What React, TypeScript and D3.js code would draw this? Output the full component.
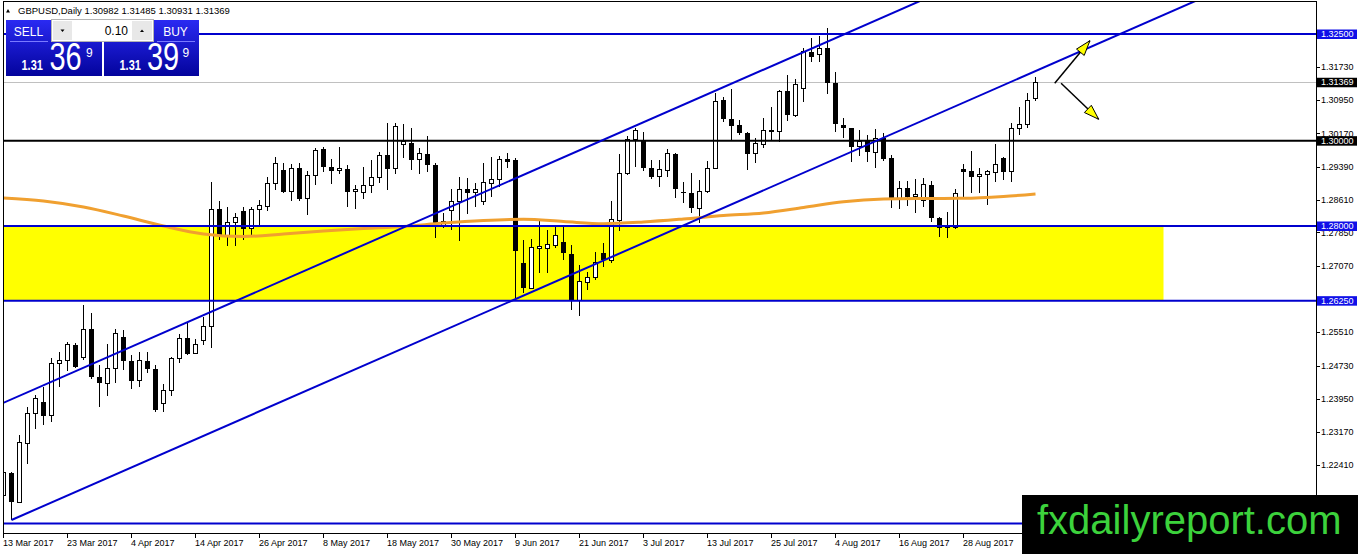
import * as d3 from 'd3'

// GBPUSD daily bars, 13 Mar 2017 .. 8 Sep 2017 (bar index 0..129)
const barOpen = [
  1.21695, 1.22211, 1.21524, 1.22907, 1.23594, 1.23868, 1.23554, 1.24782, 1.24836, 1.25211,
  1.24913, 1.25579, 1.24468, 1.24313, 1.24665, 1.25391, 1.24843, 1.24374, 1.24836, 1.24655,
  1.23845, 1.24133, 1.24899, 1.25368, 1.25016, 1.25312, 1.25656, 1.28391, 1.27766, 1.28087,
  1.28352, 1.2793, 1.28391, 1.28452, 1.29001, 1.29313, 1.28804, 1.29352, 1.28633, 1.29179,
  1.29798, 1.29376, 1.29296, 1.29329, 1.28804, 1.2878, 1.28938, 1.29141, 1.29664, 1.29336,
  1.29915, 1.29952, 1.29563, 1.29688, 1.2943, 1.28, 1.28375, 1.2857, 1.2886, 1.2878,
  1.2857, 1.29001, 1.29095, 1.29563, 1.29547, 1.2714, 1.2654, 1.27477, 1.27477, 1.27538,
  1.27618, 1.27344, 1.26249, 1.2668, 1.26798, 1.2736, 1.27187, 1.28124, 1.29219, 1.30032,
  1.29999, 1.29352, 1.29155, 1.29296, 1.29688, 1.28797, 1.28766, 1.28415, 1.28804, 1.29336,
  1.30953, 1.30501, 1.30367, 1.30173, 1.29688, 1.29915, 1.3025, 1.3021, 1.31164, 1.30585,
  1.31211, 1.32085, 1.32008, 1.32165, 1.31345, 1.30367, 1.3029, 1.29859, 1.29992, 1.29727,
  1.30055, 1.29587, 1.28649, 1.28884, 1.28687, 1.28609, 1.28961, 1.28195, 1.28007, 1.2796,
  1.29336, 1.29289, 1.29155, 1.29212, 1.29259, 1.29587, 1.29273, 1.3029, 1.30384, 1.30982,
]
const barHigh = [
  1.22516, 1.22234, 1.23102, 1.23765, 1.24039, 1.2422, 1.24913, 1.25054, 1.25288, 1.25251,
  1.26148, 1.25954, 1.24742, 1.25234, 1.25579, 1.25562, 1.24977, 1.25054, 1.25054, 1.24742,
  1.2429, 1.24937, 1.25462, 1.2572, 1.25345, 1.25874, 1.29038, 1.28593, 1.28438, 1.28312,
  1.28438, 1.28438, 1.28609, 1.29155, 1.29624, 1.2947, 1.29453, 1.2947, 1.29289, 1.29821,
  1.29859, 1.29563, 1.29859, 1.2943, 1.28961, 1.2939, 1.29547, 1.29741, 1.30421, 1.30407,
  1.30391, 1.3029, 1.29821, 1.30109, 1.29477, 1.28298, 1.2886, 1.29155, 1.29118, 1.29001,
  1.2947, 1.29624, 1.29641, 1.29718, 1.29594, 1.27672, 1.27688, 1.28157, 1.27906, 1.27984,
  1.28023, 1.27555, 1.27086, 1.26929, 1.27398, 1.27595, 1.28593, 1.29688, 1.30109, 1.3029,
  1.3021, 1.29547, 1.29547, 1.29798, 1.29704, 1.29038, 1.29235, 1.29078, 1.29523, 1.3111,
  1.31016, 1.31204, 1.30484, 1.3021, 1.30055, 1.30524, 1.30796, 1.31188, 1.31539, 1.31445,
  1.32179, 1.32399, 1.3246, 1.32634, 1.31602, 1.30538, 1.30304, 1.3025, 1.30133, 1.30273,
  1.30173, 1.29664, 1.29055, 1.29055, 1.29102, 1.29118, 1.29055, 1.28218, 1.28335, 1.28867,
  1.29446, 1.29758, 1.29352, 1.29313, 1.29915, 1.29624, 1.30407, 1.30796, 1.3111, 1.31485,
]
const barLow = [
  1.21578, 1.21109, 1.21501, 1.22422, 1.23235, 1.23336, 1.23399, 1.24234, 1.24602, 1.24665,
  1.24859, 1.24407, 1.23765, 1.24016, 1.24313, 1.24625, 1.24173, 1.2422, 1.24548, 1.23648,
  1.23648, 1.24016, 1.24782, 1.24977, 1.25, 1.25211, 1.25134, 1.27672, 1.27531, 1.27531,
  1.27672, 1.27789, 1.28023, 1.28352, 1.28844, 1.28766, 1.28593, 1.28593, 1.28258, 1.28961,
  1.29273, 1.28984, 1.29219, 1.28452, 1.28398, 1.28626, 1.2878, 1.29015, 1.28844, 1.29219,
  1.29587, 1.29313, 1.29219, 1.29273, 1.27712, 1.27953, 1.27906, 1.27655, 1.28281, 1.28438,
  1.28492, 1.28687, 1.28907, 1.29352, 1.26305, 1.26423, 1.26516, 1.26891, 1.26891, 1.27477,
  1.27203, 1.26031, 1.25891, 1.265, 1.26734, 1.27032, 1.2714, 1.2789, 1.29195, 1.2939,
  1.29296, 1.29095, 1.28907, 1.29141, 1.28649, 1.28546, 1.28312, 1.28077, 1.2878, 1.29329,
  1.30445, 1.30016, 1.30133, 1.29313, 1.2947, 1.29835, 1.30016, 1.29962, 1.30461, 1.30562,
  1.30913, 1.31851, 1.31851, 1.31087, 1.30196, 1.3007, 1.29493, 1.29648, 1.29493, 1.29352,
  1.29523, 1.28429, 1.28398, 1.28476, 1.28298, 1.28452, 1.28101, 1.27749, 1.27712, 1.2793,
  1.28687, 1.28766, 1.28766, 1.28492, 1.29024, 1.29078, 1.29038, 1.30133, 1.3029, 1.30931,
]
const barClose = [
  1.22211, 1.21531, 1.2293, 1.23594, 1.23962, 1.23554, 1.24782, 1.24836, 1.25211, 1.24702,
  1.25579, 1.24468, 1.24313, 1.24665, 1.25485, 1.24843, 1.24374, 1.24836, 1.24655, 1.23687,
  1.24133, 1.24899, 1.25368, 1.25, 1.25234, 1.2564, 1.28391, 1.27766, 1.28077, 1.28204,
  1.2793, 1.28398, 1.28469, 1.29001, 1.2947, 1.28804, 1.29352, 1.28633, 1.29195, 1.29781,
  1.29376, 1.29296, 1.29352, 1.28804, 1.28867, 1.28938, 1.29141, 1.29664, 1.29336, 1.30327,
  1.29976, 1.29547, 1.29688, 1.2943, 1.2797, 1.28094, 1.2857, 1.2886, 1.2878, 1.2886,
  1.29015, 1.29095, 1.29563, 1.29507, 1.27421, 1.2654, 1.27501, 1.27515, 1.27555, 1.27789,
  1.2736, 1.26249, 1.26695, 1.26798, 1.2714, 1.27203, 1.28141, 1.29235, 1.30032, 1.30234,
  1.29352, 1.29155, 1.29313, 1.29688, 1.2886, 1.28766, 1.28415, 1.28804, 1.29352, 1.30913,
  1.30501, 1.30344, 1.30173, 1.29688, 1.29938, 1.30234, 1.3021, 1.31164, 1.30602, 1.31305,
  1.32085, 1.31968, 1.32165, 1.31345, 1.30384, 1.3029, 1.29859, 1.29976, 1.29727, 1.30055,
  1.2957, 1.28649, 1.28884, 1.28687, 1.28727, 1.28961, 1.28195, 1.27946, 1.27946, 1.28766,
  1.29273, 1.29155, 1.29212, 1.29273, 1.29446, 1.29273, 1.3029, 1.30384, 1.30953, 1.31369,
]

// moving average at sample bars
const maBars = [0, 5, 10, 15, 20, 25, 30, 35, 40, 45, 50, 55, 60, 65, 70, 75, 80, 85, 90, 95, 100, 105, 110, 115, 120, 125, 129]
const maValues = [
  1.28656, 1.28586, 1.28445, 1.28234, 1.28, 1.27813, 1.27754, 1.27813, 1.27883, 1.27941,
  1.27988, 1.2807, 1.28129, 1.28157, 1.28105, 1.28054, 1.28094, 1.28164, 1.28246, 1.28305,
  1.28434, 1.2857, 1.28633, 1.28645, 1.28649, 1.28691, 1.2875,
]

const dateTickBars = [0, 8, 16, 24, 32, 40, 48, 56, 64, 72, 80, 88, 96, 104, 112, 120]
const dateTickLabels = [
  '13 Mar 2017', '23 Mar 2017', '4 Apr 2017', '14 Apr 2017', '26 Apr 2017', '8 May 2017',
  '18 May 2017', '30 May 2017', '9 Jun 2017', '21 Jun 2017', '3 Jul 2017', '13 Jul 2017',
  '25 Jul 2017', '4 Aug 2017', '16 Aug 2017', '28 Aug 2017',
]

// visible price scale labels (the one under the 1.26250 box is fully hidden)
const priceTicks = [
  1.3173, 1.3095, 1.3017, 1.2939, 1.2861, 1.2785, 1.2707, 1.2551, 1.2473,
  1.2395, 1.2317, 1.2241, 1.2163,
]

// horizontal levels drawn on the chart (the lowest one has its label under the watermark)
const levelPrices = [1.325, 1.3, 1.28, 1.2625, 1.2103]
const levelColors = ['#0000cd', '#000000', '#0000cd', '#0000cd', '#0000cd']
const levelLabelColors = ['#1010e8', '#000000', '#1010e8', '#1010e8', '']
const lastPrice = 1.31369

// support zone
const zoneBars = [-5, 145]
const zonePrices = [1.28, 1.2625]

// channel lines: two anchor points each (bar, price)
const upperChannel = [[0, 1.23856], [100, 1.32076]]
const lowerChannel = [[1, 1.21109], [101, 1.29329]]

// scenario arrows (bar, price)
const arrowStarts = [[131.4, 1.31344], [132.2, 1.31344]]
const arrowEnds = [[135.8, 1.32343], [136.9, 1.30501]]

const W = 1358
const H = 554
const plot = { left: 3, top: 1, right: 1316, bottom: 533 }
const font = "'Liberation Sans', Arial, sans-serif"

export default function App() {
  const x = d3.scaleLinear().domain([0, 100]).range([3.5, 803.5])
  const y = d3.scaleLinear().domain([1.28, 1.325]).range([226, 34])

  const maLine = d3
    .line<number>()
    .x((_, i) => x(maBars[i]))
    .y((d) => y(d))
    .curve(d3.curveMonotoneX)

  // extend a channel to the right edge, the lower one starts at its anchor
  const channelPath = (pts: number[][], fromStart: boolean) => {
    const slope = (pts[1][1] - pts[0][1]) / (pts[1][0] - pts[0][0])
    const b0 = fromStart ? pts[0][0] : -10
    const b1 = 200
    const p0 = pts[0][1] + slope * (b0 - pts[0][0])
    const p1 = pts[0][1] + slope * (b1 - pts[0][0])
    return `M${x(b0)},${y(p0)}L${x(b1)},${y(p1)}`
  }

  const arrowHead = (sx: number, sy: number, ex: number, ey: number) => {
    const ang = Math.atan2(ey - sy, ex - sx)
    const len = 15
    const half = 5
    const bx = ex - len * Math.cos(ang)
    const by = ey - len * Math.sin(ang)
    const px = -Math.sin(ang) * half
    const py = Math.cos(ang) * half
    return `M${ex},${ey}L${bx + px},${by + py}L${bx - px},${by - py}Z`
  }

  return (
    <>
      <style>{'body{margin:0;background:#fff}'}</style>
      <svg width={W} height={H} style={{ display: 'block', fontFamily: font }}>
        <defs>
          <clipPath id="plot-clip">
            <rect x={plot.left} y={plot.top} width={plot.right - plot.left} height={plot.bottom - plot.top} />
          </clipPath>
          <linearGradient id="panel-blue" x1="0" y1="0" x2="0" y2="1">
            <stop offset="0%" stopColor="#2a2af2" />
            <stop offset="100%" stopColor="#03039c" />
          </linearGradient>
        </defs>

        <rect x={0} y={0} width={W} height={H} fill="#fff" />

        <g clipPath="url(#plot-clip)">
          {/* support zone */}
          <rect
            x={x(zoneBars[0])}
            y={y(zonePrices[0])}
            width={x(zoneBars[1]) - x(zoneBars[0])}
            height={y(zonePrices[1]) - y(zonePrices[0])}
            fill="#ffff00"
          />

          {/* last price line */}
          <line x1={plot.left} x2={plot.right} y1={Math.round(y(lastPrice)) + 0.5} y2={Math.round(y(lastPrice)) + 0.5} stroke="#c0c0c0" strokeWidth={1} />

          {/* candles */}
          <g shapeRendering="crispEdges">
            {barOpen.map((o, i) => {
              const c = barClose[i]
              const cx = x(i)
              const top = y(Math.max(o, c))
              const bot = y(Math.min(o, c))
              const bull = c >= o
              return (
                <g key={i}>
                  <line x1={cx} x2={cx} y1={y(barHigh[i])} y2={y(barLow[i])} stroke="#000" strokeWidth={1} />
                  {bull ? (
                    <rect x={cx - 2} y={top} width={4} height={Math.max(bot - top, 0.5)} fill="#fff" stroke="#000" strokeWidth={1} />
                  ) : (
                    <rect x={cx - 2.5} y={top} width={5} height={Math.max(bot - top, 1)} fill="#000" />
                  )}
                </g>
              )
            })}
          </g>

          {/* moving average */}
          <path d={maLine(maValues) || ''} fill="none" stroke="#f0a030" strokeWidth={3} />

          {/* horizontal levels */}
          {levelPrices.map((p, i) => (
            <line key={p} x1={plot.left} x2={plot.right} y1={y(p)} y2={y(p)} stroke={levelColors[i]} strokeWidth={2} />
          ))}

          {/* channel */}
          <path d={channelPath(upperChannel, false)} stroke="#0000cd" strokeWidth={2} fill="none" />
          <path d={channelPath(lowerChannel, true)} stroke="#0000cd" strokeWidth={2} fill="none" />

          {/* arrows */}
          {arrowStarts.map((s, i) => {
            const sx = x(s[0])
            const sy = y(s[1])
            const ex = x(arrowEnds[i][0])
            const ey = y(arrowEnds[i][1])
            return (
              <g key={i}>
                <line x1={sx} y1={sy} x2={ex} y2={ey} stroke="#000" strokeWidth={1.5} />
                <path d={arrowHead(sx, sy, ex, ey)} fill="#ffff00" stroke="#000" strokeWidth={1} />
              </g>
            )
          })}
        </g>

        {/* frame */}
        <rect
          x={plot.left + 0.5}
          y={plot.top + 0.5}
          width={plot.right - plot.left}
          height={plot.bottom - plot.top}
          fill="none"
          stroke="#000"
          strokeWidth={1}
          shapeRendering="crispEdges"
        />

        {/* price axis */}
        <g fontSize={9} fill="#000">
          {priceTicks.map((p) => (
            <g key={p}>
              <line x1={plot.right} x2={plot.right + 4} y1={Math.round(y(p)) + 0.5} y2={Math.round(y(p)) + 0.5} stroke="#000" />
              <text x={plot.right + 5} y={y(p)} dy="0.35em">{p.toFixed(5)}</text>
            </g>
          ))}
        </g>
        {levelPrices.map((p, i) =>
          levelLabelColors[i] ? (
            <g key={p}>
              <rect x={plot.right + 1} y={y(p) - 4.5} width={40} height={9.5} fill={levelLabelColors[i]} />
              <text x={plot.right + 5} y={y(p)} dy="0.35em" fontSize={9} fill="#fff">{p.toFixed(5)}</text>
            </g>
          ) : null
        )}
        <rect x={plot.right + 1} y={y(lastPrice) - 4.5} width={40} height={9.5} fill="#000" />
        <text x={plot.right + 5} y={y(lastPrice)} dy="0.35em" fontSize={9} fill="#fff">{lastPrice.toFixed(5)}</text>

        {/* time axis */}
        <g fontSize={9} fill="#000">
          {dateTickBars.map((b, i) => (
            <g key={b}>
              <line x1={x(b)} x2={x(b)} y1={plot.bottom} y2={plot.bottom + 5} stroke="#000" />
              <text x={x(b) - 0.5} y={546}>{dateTickLabels[i]}</text>
            </g>
          ))}
        </g>

        {/* symbol header */}
        <path d="M6,12.5L8,9L10,12.5Z" fill="#000" />
        <text x={18} y={14} fontSize={9.5} fill="#000">GBPUSD,Daily  1.30982 1.31485 1.30931 1.31369</text>

        {/* one click trading panel */}
        <rect x={6} y={20} width={96} height={56} fill="url(#panel-blue)" />
        <rect x={104} y={20} width={95} height={56} fill="url(#panel-blue)" />
        <rect x={51.5} y={19.5} width={102} height={22} fill="#fff" stroke="#b4b4b4" />
        <rect x={53} y={21} width={19} height={19} fill="#e8e8e8" />
        <path d="M60.5,29.5L64.5,29.5L62.5,32Z" fill="#000" />
        <rect x={132} y={21} width={20} height={19} fill="#e8e8e8" />
        <path d="M140,32L144,32L142,29.5Z" fill="#000" />
        <text x={128} y={35} fontSize={12} textAnchor="end" fill="#000">0.10</text>
        <text x={28.5} y={35.5} fontSize={12} textAnchor="middle" fill="#fff">SELL</text>
        <text x={175.5} y={35.5} fontSize={12} textAnchor="middle" fill="#fff">BUY</text>
        <line x1={10} x2={48} y1={41.5} y2={41.5} stroke="#7a7aff" />
        <line x1={157} x2={195} y1={41.5} y2={41.5} stroke="#7a7aff" />

        <g fill="#fff">
          <text transform="translate(21.5,70) scale(1,1.3)" fontSize={11} fontWeight="bold">1.31</text>
          <text transform="translate(49.5,70) scale(1,1.32)" fontSize={29}>36</text>
          <text x={86} y={57} fontSize={12}>9</text>
          <text transform="translate(119.5,70) scale(1,1.3)" fontSize={11} fontWeight="bold">1.31</text>
          <text transform="translate(147,70) scale(1,1.32)" fontSize={29}>39</text>
          <text x={182.5} y={57} fontSize={12}>9</text>
        </g>

        {/* watermark */}
        <rect x={1022} y={495} width={W - 1022} height={H - 495} fill="#000" />
        <text x={1037} y={534} fontSize={40} fill="#3cd23c">fxdailyreport.com</text>
      </svg>
    </>
  )
}
